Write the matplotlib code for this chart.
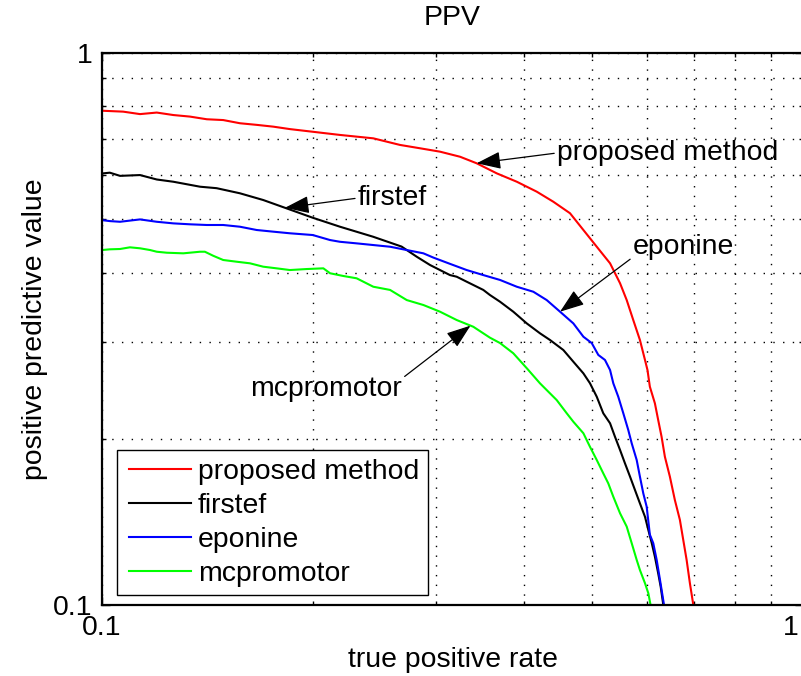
import numpy as np
import matplotlib
matplotlib.use("Agg")
import matplotlib.pyplot as plt
from matplotlib.ticker import FixedLocator, FixedFormatter, NullFormatter
from matplotlib.lines import Line2D
from matplotlib.legend_handler import HandlerLine2D
from matplotlib.transforms import ScaledTranslation

plt.rcParams['font.family'] = ['Liberation Sans', 'DejaVu Sans']

# ---- data ----
tpr_proposed = [0.100, 0.1072, 0.1133, 0.1197, 0.1264, 0.1335, 0.1411, 0.1489, 0.1573, 0.1662,
                0.1755, 0.1854, 0.1998, 0.2185, 0.2438, 0.2661, 0.2843, 0.3035, 0.3242, 0.3423,
                0.3658, 0.3906, 0.4170, 0.4404, 0.4652, 0.4861, 0.5079, 0.5306, 0.5483, 0.5604,
                0.5726, 0.5853, 0.5951, 0.6000, 0.6047, 0.6148, 0.6215, 0.6284, 0.6353,
                0.6458, 0.6565, 0.6674, 0.6748, 0.6823, 0.6897, 0.6975]
ppv_proposed = [0.786, 0.783, 0.775, 0.780, 0.772, 0.767, 0.7585, 0.756, 0.746, 0.741,
                0.7355, 0.728, 0.720, 0.7105, 0.7005, 0.6815, 0.672, 0.6626, 0.6487, 0.6313,
                0.6052, 0.5845, 0.5608, 0.5377, 0.5125, 0.4779, 0.4457, 0.4159, 0.3827, 0.3568,
                0.3283, 0.3020, 0.2779, 0.2665, 0.2486, 0.2319, 0.2163, 0.2018, 0.1856,
                0.1708, 0.1549, 0.1426, 0.1312, 0.1207, 0.1095, 0.100]

tpr_firstef = [0.100, 0.1026, 0.1061, 0.1133, 0.1197, 0.1264, 0.1380, 0.1457, 0.1573, 0.1698,
               0.1834, 0.1998, 0.2185, 0.2436, 0.2675, 0.2811, 0.2938, 0.3136, 0.3206, 0.3313,
               0.3499, 0.3576, 0.3697, 0.3861, 0.4036, 0.4215, 0.4357, 0.4551, 0.4703, 0.4861,
               0.4967, 0.5079, 0.5189, 0.5306, 0.5392, 0.5483, 0.5572, 0.5666, 0.5759, 0.5853,
               0.5951, 0.6017, 0.6085, 0.6148, 0.6215, 0.6266, 0.6320]
ppv_firstef = [0.605, 0.607, 0.599, 0.601, 0.590, 0.5845, 0.5725, 0.569, 0.557, 0.5416,
               0.523, 0.503, 0.4845, 0.4647, 0.446, 0.4276, 0.4129, 0.396, 0.3933, 0.3852,
               0.3722, 0.3644, 0.3543, 0.3399, 0.3237, 0.3106, 0.3020, 0.2897, 0.2759, 0.2628,
               0.2522, 0.2384, 0.2225, 0.2134, 0.2018, 0.1909, 0.1806, 0.1708, 0.1615, 0.1528,
               0.1445, 0.1367, 0.1294, 0.1223, 0.1141, 0.1079, 0.100]

tpr_eponine = [0.100, 0.1026, 0.1061, 0.1133, 0.1197, 0.1264, 0.1335, 0.1411, 0.1489, 0.1573,
               0.1662, 0.1755, 0.1854, 0.1998, 0.2115, 0.2185, 0.2308, 0.2576, 0.2721, 0.2874,
               0.2969, 0.3136, 0.3313, 0.3499, 0.3697, 0.3906, 0.4124, 0.4309, 0.4502, 0.4703,
               0.4861, 0.4996, 0.5105, 0.5218, 0.5306, 0.5363, 0.5451, 0.5542, 0.5633, 0.5697,
               0.5791, 0.5853, 0.5918, 0.5984, 0.6047, 0.6115, 0.6184, 0.6252, 0.6335]
ppv_eponine = [0.498, 0.496, 0.4946, 0.4995, 0.4946, 0.4913, 0.4894, 0.488, 0.488, 0.4845,
               0.4779, 0.4746, 0.4714, 0.468, 0.4583, 0.455, 0.452, 0.4457, 0.4396, 0.4336,
               0.4260, 0.4150, 0.4044, 0.396, 0.388, 0.3772, 0.3694, 0.3568, 0.3399, 0.3237,
               0.3062, 0.2982, 0.2838, 0.2779, 0.2665, 0.2521, 0.2384, 0.2225, 0.2075, 0.1963,
               0.1831, 0.1708, 0.1593, 0.1507, 0.1341, 0.1294, 0.1207, 0.1110, 0.100]

tpr_mcpromotor = [0.100, 0.1026, 0.1061, 0.1096, 0.1133, 0.1171, 0.1197, 0.1237, 0.1306, 0.1380,
                  0.1402, 0.1441, 0.1489, 0.1556, 0.1626, 0.1698, 0.1774, 0.1854, 0.1959, 0.2069,
                  0.2115, 0.2209, 0.2308, 0.2438, 0.2576, 0.2721, 0.2874, 0.3035, 0.3206, 0.3386,
                  0.3576, 0.3697, 0.3861, 0.4036, 0.4215, 0.4357, 0.4453, 0.4602, 0.4703, 0.4861,
                  0.4967, 0.5079, 0.5189, 0.5275, 0.5363, 0.5483, 0.5604, 0.5697, 0.5791, 0.5853,
                  0.5951, 0.6017, 0.6061]
ppv_mcpromotor = [0.4396, 0.4409, 0.4415, 0.4446, 0.4428, 0.4396, 0.4365, 0.4347, 0.4336, 0.4365,
                  0.4365, 0.4292, 0.4217, 0.4187, 0.4159, 0.4101, 0.4073, 0.4044, 0.4061, 0.4073,
                  0.3990, 0.3945, 0.3907, 0.3772, 0.3722, 0.3568, 0.3495, 0.3399, 0.3283, 0.3192,
                  0.3050, 0.2982, 0.2858, 0.2685, 0.2521, 0.2417, 0.2351, 0.2225, 0.2148, 0.2047,
                  0.1935, 0.1831, 0.1732, 0.1661, 0.1571, 0.1466, 0.1387, 0.1294, 0.1207, 0.1157,
                  0.1095, 0.1050, 0.100]

series_names = ['proposed method', 'firstef', 'eponine', 'mcpromotor']
series_colors = ['#ff0000', '#000000', '#0000ff', '#00ff00']

x_ticks = [0.1, 1]
x_tick_labels = ['0.1', '1']
y_ticks = [0.1, 1]
y_tick_labels = ['0.1', '1']

FS = 20.4

fig = plt.figure(figsize=(8.01, 6.76), dpi=100)
ax = fig.add_axes([102/801, 71/676, 701/801, 552/676])

series = [(tpr_proposed, ppv_proposed), (tpr_firstef, ppv_firstef),
          (tpr_eponine, ppv_eponine), (tpr_mcpromotor, ppv_mcpromotor)]
for (xs, ys), name, col in zip(series, series_names, series_colors):
    ax.plot(xs, ys, color=col, lw=1.5, label=name)

ax.set_xscale('log')
ax.set_yscale('log')
ax.set_xlim(0.1, 1)
ax.set_ylim(0.1, 1)
ax.xaxis.set_major_locator(FixedLocator(x_ticks))
ax.xaxis.set_major_formatter(FixedFormatter(x_tick_labels))
ax.yaxis.set_major_locator(FixedLocator(y_ticks))
ax.yaxis.set_major_formatter(FixedFormatter(y_tick_labels))
ax.xaxis.set_minor_formatter(NullFormatter())
ax.yaxis.set_minor_formatter(NullFormatter())

ax.grid(True, which='both', color='black', linestyle=(0, (1, 6)), linewidth=1.0)
ax.tick_params(which='both', direction='in', top=True, right=True, labelsize=FS, width=1.0)
ax.tick_params(which='major', length=6, pad=7)
ax.tick_params(which='minor', length=3)
for s in ax.spines.values():
    s.set_linewidth(1.6)

# keep the right-most x tick label inside the canvas, as in the reference
last_lbl = ax.xaxis.get_major_ticks()[-1].label1
last_lbl.set_transform(last_lbl.get_transform() + ScaledTranslation(-12/100, 0, fig.dpi_scale_trans))

ax.set_xlabel('true positive rate', fontsize=FS, va='center')
ax.xaxis.set_label_coords(0.5, -0.0996)
ax.set_ylabel('positive predictive value', fontsize=FS, va='center')
ax.yaxis.set_label_coords(-0.0956, 0.50)
ax.text(0.5, 1.0634, 'PPV', transform=ax.transAxes, ha='center', va='center', fontsize=FS)


def on_curve(xs, ys, x):
    return x, 10 ** np.interp(np.log10(x), np.log10(xs), np.log10(ys))


arrow = dict(arrowstyle='-|>,head_length=0.75,head_width=0.27', color='black', lw=0.9,
             shrinkA=0, shrinkB=0, mutation_scale=20)

ax.annotate('proposed method', xy=on_curve(tpr_proposed, ppv_proposed, 0.3423),
            xytext=(0.4457, 0.659), fontsize=FS, ha='left', va='center',
            arrowprops=dict(arrow, relpos=(0, 0.5)))
ax.annotate('firstef', xy=on_curve(tpr_firstef, ppv_firstef, 0.1824),
            xytext=(0.2317, 0.546), fontsize=FS, ha='left', va='center',
            arrowprops=dict(arrow, relpos=(0, 0.5)))
ax.annotate('eponine', xy=on_curve(tpr_eponine, ppv_eponine, 0.4502),
            xytext=(0.5720, 0.4457), fontsize=FS, ha='left', va='center',
            arrowprops=dict(arrow, relpos=(0, 0.1)))
ax.annotate('mcpromotor', xy=on_curve(tpr_mcpromotor, ppv_mcpromotor, 0.3355),
            xytext=(0.2087, 0.2462), fontsize=FS, ha='center', va='center',
            arrowprops=dict(arrow, relpos=(1, 0.9)))

leg = ax.legend(loc='lower left', bbox_to_anchor=(0.021, 0.018), borderaxespad=0,
                fontsize=FS, fancybox=False, edgecolor='black', framealpha=1,
                handlelength=2.31, handletextpad=0.25, labelspacing=0.28,
                borderpad=0.3, handler_map={Line2D: HandlerLine2D(xpad=0.134)})
leg.get_frame().set_linewidth(1.0)
for h in leg.get_lines():
    h.set_linewidth(1.5)

fig.savefig('out.png', dpi=100)
